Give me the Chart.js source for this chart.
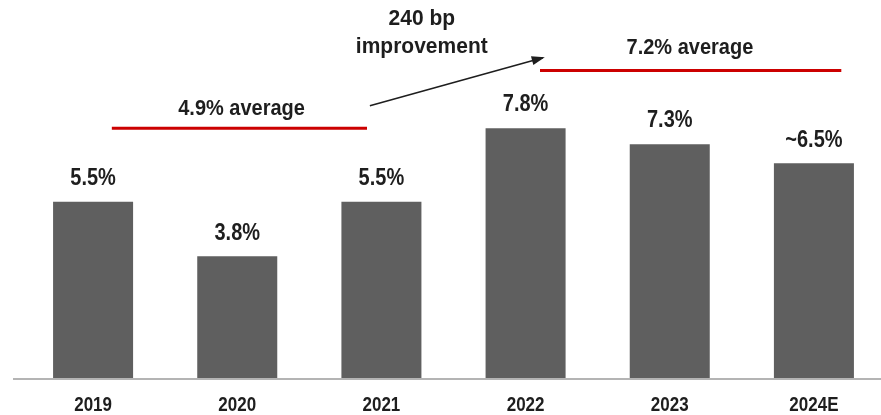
<!DOCTYPE html>
<html lang="en">
<head>
  <meta charset="UTF-8" />
  <title>Margin improvement</title>
  <script src="https://cdn.jsdelivr.net/npm/chart.js"></script>
  <style>
    html, body {
      margin: 0;
      padding: 0;
      background: #fff;
      overflow: hidden;
    }
    .chart-wrapper {
      width: 886px;
      height: 415px;
      position: relative;
    }
  </style>
</head>
<body>
  <div class="chart-wrapper">
    <canvas id="chartMargin"></canvas>
  </div>

  <script>
    const years = ['2019', '2020', '2021', '2022', '2023', '2024E'];
    const values = [5.5, 3.8, 5.5, 7.8, 7.3, 6.7];
    const valueLabels = ['5.5%', '3.8%', '5.5%', '7.8%', '7.3%', '~6.5%'];

    const FONT = '"Liberation Sans", Arial, sans-serif';

    // texto un poco estirado en vertical, como en la imagen
    function drawText(c, str, x, y, size, sy) {
      c.save();
      c.translate(x, y);
      c.scale(1, sy);
      c.font = 'bold ' + size + 'px ' + FONT;
      c.fillText(str, 0, 0);
      c.restore();
    }

    const overlay = {
      id: 'overlay',
      afterDatasetsDraw(chart) {
        const c = chart.ctx;
        const x = chart.scales.x;
        const y = chart.scales.y;
        const meta = chart.getDatasetMeta(0);

        c.save();
        c.fillStyle = '#1e1e1e';
        c.textAlign = 'center';
        c.textBaseline = 'middle';

        // eje x
        c.strokeStyle = '#b4b4b4';
        c.lineWidth = 2;
        c.beginPath();
        c.moveTo(13, y.bottom + 1);
        c.lineTo(chart.width, y.bottom + 1);
        c.stroke();

        meta.data.forEach((bar, i) => {
          drawText(c, valueLabels[i], bar.x, bar.y - 23, 20, 1.15);
          drawText(c, years[i], bar.x, y.bottom + 27, 17, 1.2);
        });

        // líneas de promedio
        c.strokeStyle = '#cc0000';
        c.lineWidth = 3;
        c.beginPath();
        c.moveTo(x.getPixelForValue(0.13), y.getPixelForValue(7.8));
        c.lineTo(x.getPixelForValue(1.9), y.getPixelForValue(7.8));
        c.moveTo(x.getPixelForValue(3.1), y.getPixelForValue(9.6));
        c.lineTo(x.getPixelForValue(5.19), y.getPixelForValue(9.6));
        c.stroke();

        drawText(c, '4.9% average', x.getPixelForValue(1.03), y.getPixelForValue(8.4), 20, 1.1);
        drawText(c, '7.2% average', x.getPixelForValue(4.14), y.getPixelForValue(10.3), 20, 1.1);
        drawText(c, '240 bp', x.getPixelForValue(2.28), y.getPixelForValue(11.2), 21, 1.05);
        drawText(c, 'improvement', x.getPixelForValue(2.28), y.getPixelForValue(10.35), 21, 1.05);

        // flecha
        const x1 = x.getPixelForValue(1.92), y1 = y.getPixelForValue(8.5);
        const x2 = x.getPixelForValue(3.12), y2 = y.getPixelForValue(10.0);
        c.strokeStyle = '#1e1e1e';
        c.lineWidth = 1.6;
        c.beginPath();
        c.moveTo(x1, y1);
        c.lineTo(x2, y2);
        c.stroke();
        const a = Math.atan2(y2 - y1, x2 - x1);
        c.fillStyle = '#1e1e1e';
        c.beginPath();
        c.moveTo(x2 + 2 * Math.cos(a), y2 + 2 * Math.sin(a));
        c.lineTo(x2 - 12 * Math.cos(a - 0.38), y2 - 12 * Math.sin(a - 0.38));
        c.lineTo(x2 - 12 * Math.cos(a + 0.38), y2 - 12 * Math.sin(a + 0.38));
        c.closePath();
        c.fill();
        c.restore();
      }
    };

    const ctx = document.getElementById('chartMargin').getContext('2d');
    const chart = new Chart(ctx, {
      type: 'bar',
      data: {
        labels: years,
        datasets: [{
          data: values,
          backgroundColor: '#5f5f5f',
          borderWidth: 0,
          categoryPercentage: 1,
          barPercentage: 0.555
        }]
      },
      options: {
        responsive: true,
        maintainAspectRatio: false,
        animation: false,
        layout: { padding: { left: 21, right: 0, top: 0, bottom: 0 } },
        plugins: {
          legend: { display: false },
          tooltip: { enabled: false }
        },
        scales: {
          x: {
            grid: { display: false, drawTicks: false },
            border: { display: false },
            ticks: { display: false },
            afterFit(scale) { scale.height = 37; }
          },
          y: {
            display: false,
            min: 0,
            max: 11.8
          }
        }
      },
      plugins: [overlay]
    });
  </script>
</body>
</html>
